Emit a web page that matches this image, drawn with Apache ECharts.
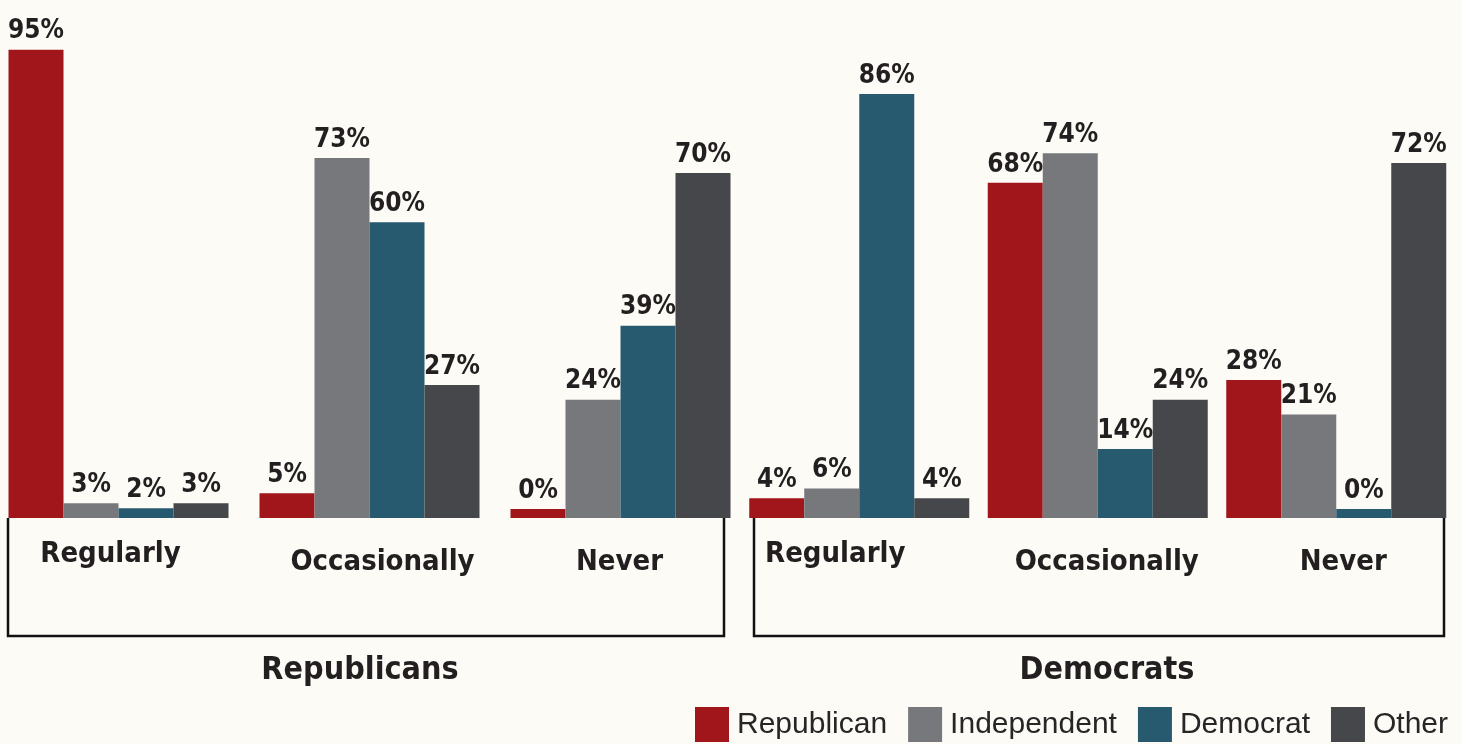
<!DOCTYPE html>
<html>
<head>
<meta charset="utf-8">
<script src="https://cdn.jsdelivr.net/npm/echarts@6/dist/echarts.min.js"></script>
<style>
  html, body { margin: 0; padding: 0; background: #fcfbf6; }
  #chart { width: 1462px; height: 744px; }
</style>
</head>
<body>
<div id="chart"></div>
<script>
var categories = ['Regularly', 'Occasionally', 'Never'];
var parties = ['Republican', 'Independent', 'Democrat', 'Other'];
var groupNames = ['Republicans', 'Democrats'];

// Republicans panel
var repRepublican = [95, 5, 0];
var repIndependent = [3, 73, 24];
var repDemocrat = [2, 60, 39];
var repOther = [3, 27, 70];

// Democrats panel
var demRepublican = [4, 68, 28];
var demIndependent = [6, 74, 21];
var demDemocrat = [86, 14, 0];
var demOther = [4, 24, 72];

var colors = ['#a0161a', '#77787c', '#285a6f', '#45474a'];
var condensed = "'DejaVu Sans Condensed', 'Liberation Sans Narrow', 'Liberation Sans', sans-serif";

var myChart = echarts.init(document.getElementById('chart'));

var panels = [
    [repRepublican, repIndependent, repDemocrat, repOther],
    [demRepublican, demIndependent, demDemocrat, demOther]
];

// nudges for the category labels, left panel then right panel
var labelShift = [[-8, 13, -1], [-24, 9, 7]];

function xAxisFor(idx) {
    var rich = {};
    categories.forEach(function (c, i) {
        var s = labelShift[idx][i];
        rich['c' + i] = {
            fontFamily: condensed,
            fontWeight: 'bold',
            fontSize: 29,
            color: '#231f20',
            padding: s < 0 ? [i ? 8 : 0, -2 * s, 0, 0] : [i ? 8 : 0, 0, 0, 2 * s]
        };
    });
    return {
        type: 'category',
        gridIndex: idx,
        data: categories,
        axisLine: { show: false },
        axisTick: { show: false },
        axisLabel: {
            margin: 22,
            formatter: function (v) {
                return '{c' + categories.indexOf(v) + '|' + v + '}';
            },
            rich: rich
        }
    };
}

var series = [];
panels.forEach(function (vals, g) {
    vals.forEach(function (data, k) {
        series.push({
            name: parties[k],
            type: 'bar',
            xAxisIndex: g,
            yAxisIndex: g,
            data: data,
            barWidth: 55,
            barGap: '0%',
            barMinHeight: 9,
            itemStyle: { color: colors[k] },
            label: {
                show: true,
                position: 'top',
                distance: 5,
                formatter: '{c}%',
                fontFamily: condensed,
                fontWeight: 'bold',
                fontSize: 26,
                color: '#231f20'
            }
        });
    });
});

var option = {
    backgroundColor: '#fcfbf6',
    animation: false,
    color: colors,
    grid: [
        { left: -7, width: 753, top: 25, bottom: 226, outerBoundsMode: 'none', containLabel: false },
        { left: 740, width: 715.5, top: 25, bottom: 226, outerBoundsMode: 'none', containLabel: false }
    ],
    xAxis: [xAxisFor(0), xAxisFor(1)],
    yAxis: [
        { type: 'value', gridIndex: 0, min: 0, max: 100, show: false },
        { type: 'value', gridIndex: 1, min: 0, max: 100, show: false }
    ],
    legend: {
        data: parties,
        right: 14,
        bottom: 2,
        padding: 0,
        icon: 'rect',
        itemWidth: 34,
        itemHeight: 35,
        itemGap: 21,
        textStyle: {
            fontFamily: "'Liberation Sans', Arial, sans-serif",
            fontSize: 30,
            color: '#262626',
            padding: [0, 0, 0, 3]
        }
    },
    graphic: [
        {
            type: 'polyline',
            shape: { points: [[8, 518], [8, 636], [724, 636], [724, 518]] },
            style: { stroke: '#111', lineWidth: 2.5, fill: null }
        },
        {
            type: 'polyline',
            shape: { points: [[754, 518], [754, 636], [1444, 636], [1444, 518]] },
            style: { stroke: '#111', lineWidth: 2.5, fill: null }
        },
        {
            type: 'text',
            x: 360, y: 671,
            style: {
                text: groupNames[0],
                align: 'center', verticalAlign: 'middle',
                fontFamily: condensed, fontWeight: 'bold', fontSize: 32, fill: '#231f20'
            }
        },
        {
            type: 'text',
            x: 1107, y: 671,
            style: {
                text: groupNames[1],
                align: 'center', verticalAlign: 'middle',
                fontFamily: condensed, fontWeight: 'bold', fontSize: 32, fill: '#231f20'
            }
        }
    ],
    series: series
};

myChart.setOption(option);
</script>
</body>
</html>
